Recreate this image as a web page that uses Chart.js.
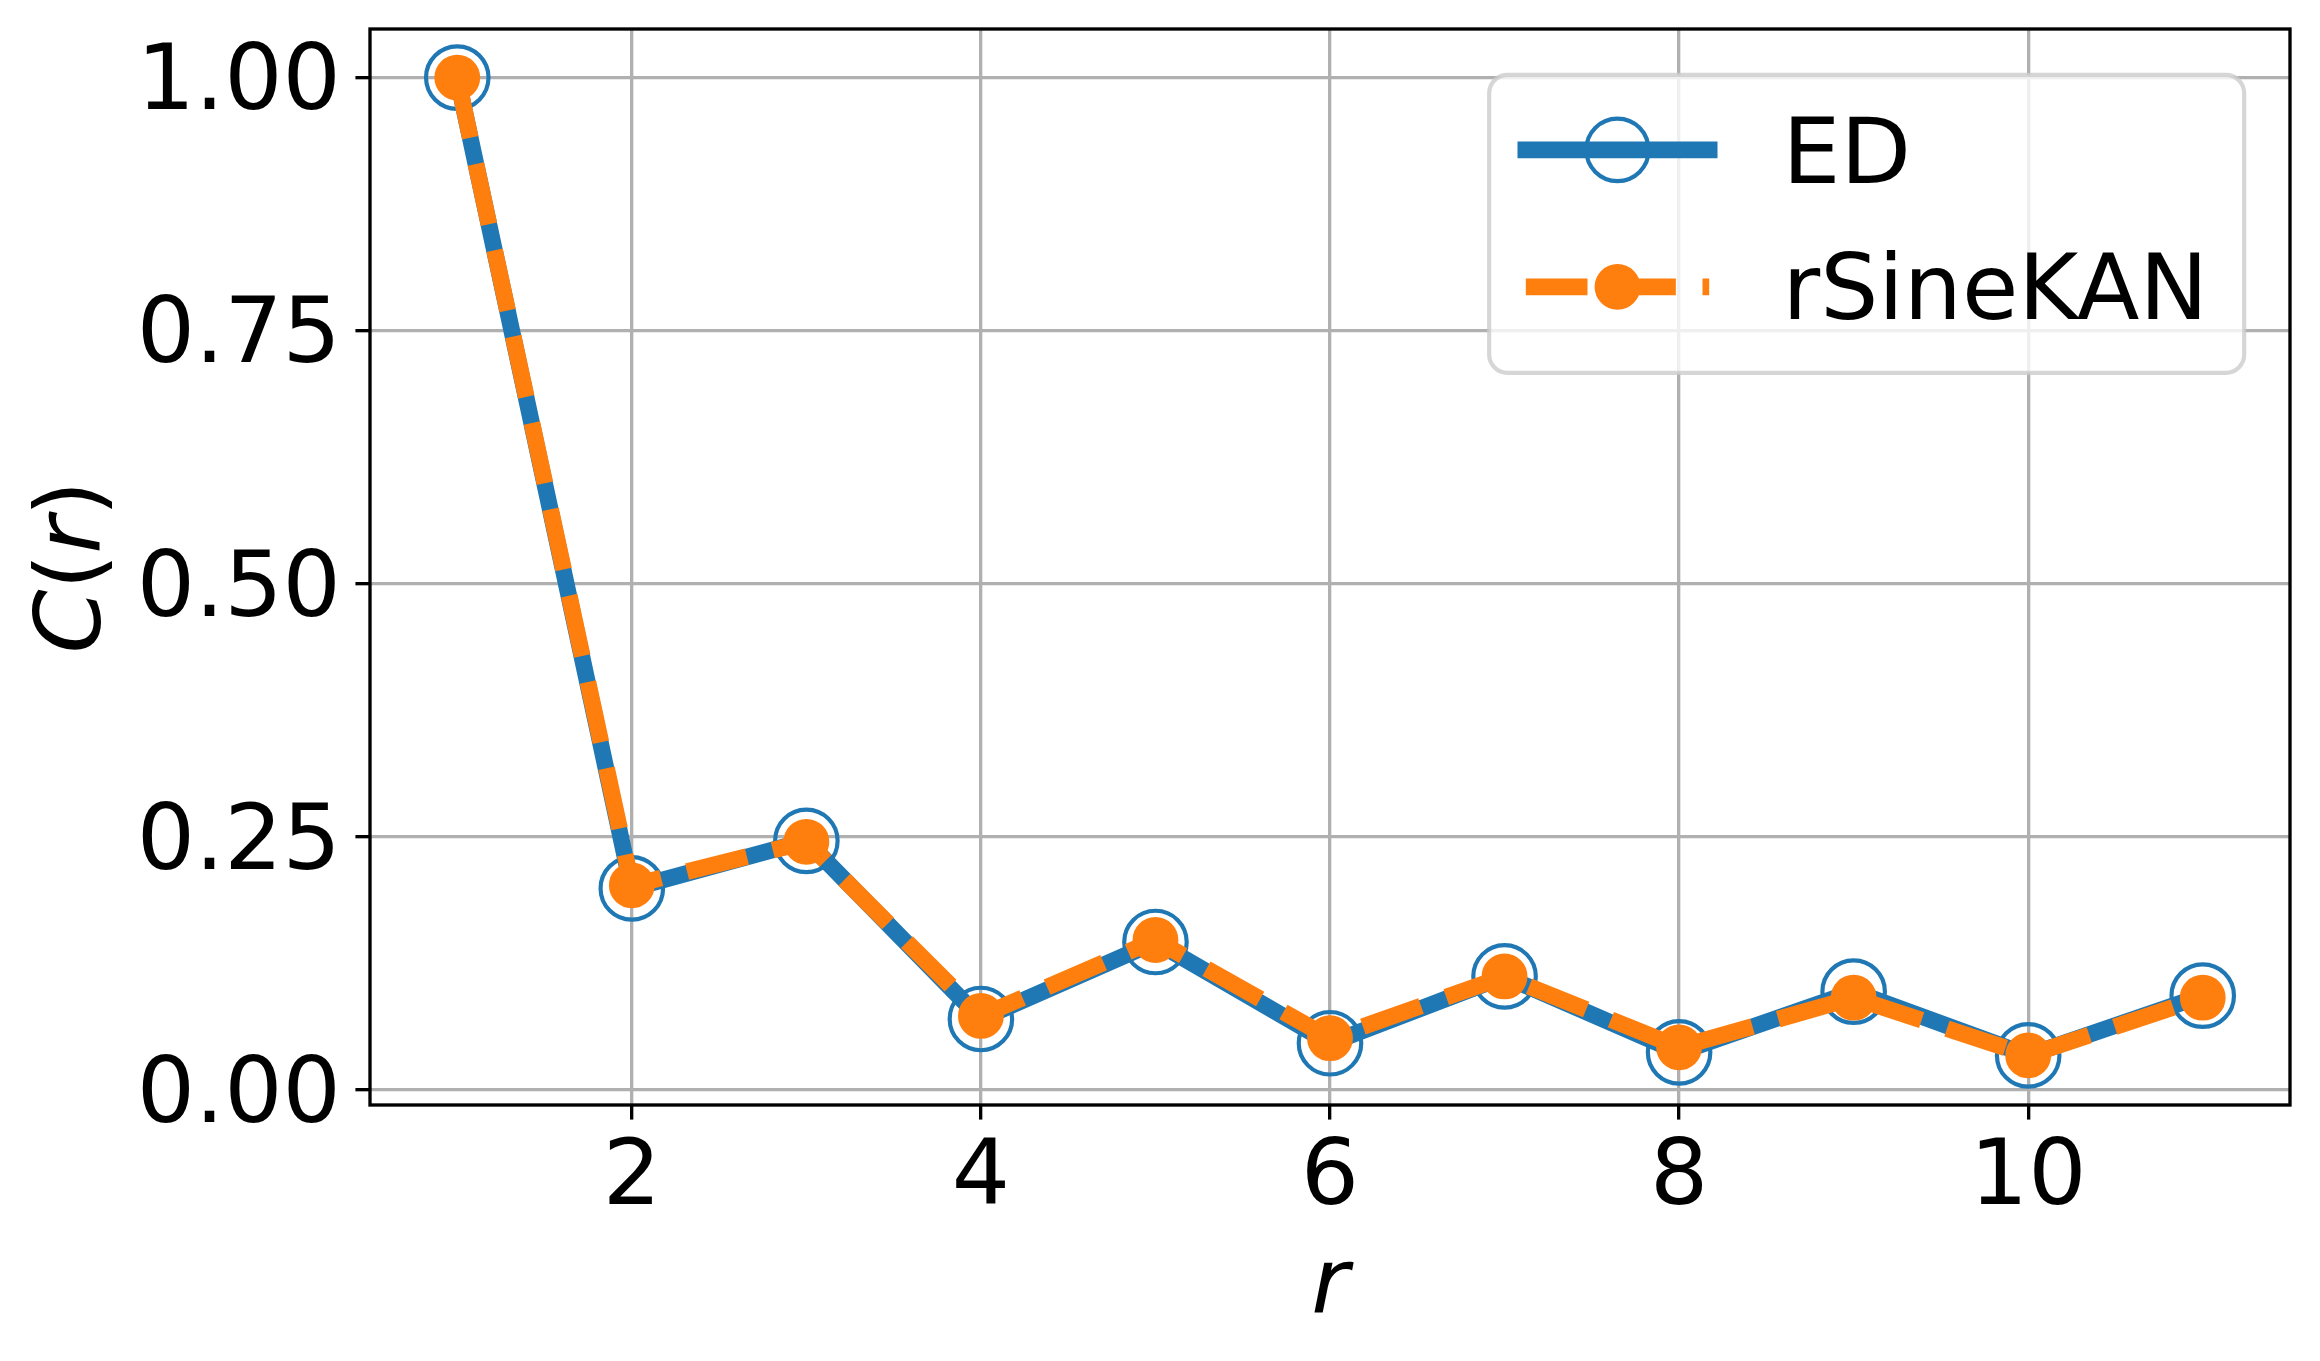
<!DOCTYPE html>
<html>
<head>
<meta charset="utf-8">
<script src="https://cdn.jsdelivr.net/npm/chart.js@4.4.1/dist/chart.umd.min.js"></script>
<style>
  html, body { margin: 0; padding: 0; background: #ffffff; }
  #wrap { width: 2320px; height: 1361px; }
</style>
</head>
<body>
<div id="wrap"><canvas id="c" width="2320" height="1361"></canvas></div>
<script>
// ---------------- data ----------------
const rValues = [1, 2, 3, 4, 5, 6, 7, 8, 9, 10, 11];
const edValues = [1.000, 0.199, 0.246, 0.070, 0.146, 0.046, 0.112, 0.037, 0.097, 0.034, 0.093];
const rSineKANValues = [1.000, 0.202, 0.245, 0.073, 0.148, 0.051, 0.112, 0.042, 0.091, 0.034, 0.091];
const seriesNames = ['ED', 'rSineKAN'];
const xTickValues = [2, 4, 6, 8, 10];
const yTickValues = [0.00, 0.25, 0.50, 0.75, 1.00];
const xAxisTitle = 'r';
const yAxisTitleParts = [['C', true], ['(', false], ['r', true], [')', false]];

// ---------------- style ----------------
const PT = 300 / 72;
const FONT = 'DejaVu Sans';
const FS = 22 * PT;
const BLUE = '#1f77b4';
const ORANGE = '#ff7f0e';
const LW = 4 * PT;
const DASH = [3.7 * LW, 1.6 * LW];

function toPoints(xs, ys) { return xs.map((x, i) => ({ x: x, y: ys[i] })); }

const framePlugin = {
  id: 'frame',
  afterDraw(chart) {
    const { ctx, chartArea: a } = chart;
    ctx.save();
    // spines
    ctx.strokeStyle = '#000000';
    ctx.lineWidth = 0.8 * PT;
    ctx.lineJoin = 'miter';
    ctx.strokeRect(a.left, a.top, a.right - a.left, a.bottom - a.top);

    // axis titles
    ctx.fillStyle = '#000000';
    ctx.textBaseline = 'alphabetic';
    ctx.font = 'italic ' + FS + 'px "' + FONT + '"';
    ctx.textAlign = 'center';
    ctx.fillText(xAxisTitle, (a.left + a.right) / 2, 1313);
    ctx.save();
    ctx.translate(100, (a.top + a.bottom) / 2);
    ctx.rotate(-Math.PI / 2);
    ctx.textAlign = 'left';
    const widths = yAxisTitleParts.map(p => {
      ctx.font = (p[1] ? 'italic ' : '') + FS + 'px "' + FONT + '"';
      return ctx.measureText(p[0]).width;
    });
    const total = widths.reduce((s, w) => s + w, 0);
    let xx = -total / 2;
    yAxisTitleParts.forEach((p, i) => {
      ctx.font = (p[1] ? 'italic ' : '') + FS + 'px "' + FONT + '"';
      ctx.fillText(p[0], xx, 0);
      xx += widths[i];
    });
    ctx.restore();

    // legend
    const boxRight = a.right - 0.5 * FS;
    const boxTop = a.top + 0.5 * FS;
    const boxW = 755, boxH = 298;
    const boxLeft = boxRight - boxW;
    ctx.beginPath();
    ctx.roundRect(boxLeft, boxTop, boxW, boxH, 0.2 * FS);
    ctx.fillStyle = 'rgba(255,255,255,0.8)';
    ctx.fill();
    ctx.strokeStyle = 'rgba(204,204,204,0.8)';
    ctx.lineWidth = 1 * PT;
    ctx.stroke();

    const hx0 = boxLeft + 0.4 * FS;
    const hx1 = hx0 + 2.0 * FS;
    const hxm = (hx0 + hx1) / 2;
    const tx = hx1 + 0.8 * FS;
    const rows = [boxTop + 75, boxTop + 212];
    const baselines = [boxTop + 108, boxTop + 244];

    ctx.beginPath();
    ctx.setLineDash([]);
    ctx.lineCap = 'square';
    ctx.strokeStyle = BLUE;
    ctx.lineWidth = LW;
    ctx.moveTo(hx0, rows[0]);
    ctx.lineTo(hx1, rows[0]);
    ctx.stroke();
    ctx.beginPath();
    ctx.lineWidth = 1 * PT;
    ctx.arc(hxm, rows[0], 7.5 * PT, 0, Math.PI * 2);
    ctx.stroke();

    ctx.beginPath();
    ctx.lineCap = 'butt';
    ctx.strokeStyle = ORANGE;
    ctx.lineWidth = LW;
    ctx.setLineDash(DASH);
    ctx.moveTo(hx0, rows[1]);
    ctx.lineTo(hx1, rows[1]);
    ctx.stroke();
    ctx.setLineDash([]);
    ctx.beginPath();
    ctx.fillStyle = ORANGE;
    ctx.lineWidth = 1 * PT;
    ctx.arc(hxm, rows[1], 5 * PT, 0, Math.PI * 2);
    ctx.fill();
    ctx.stroke();

    ctx.fillStyle = '#000000';
    ctx.font = FS + 'px "' + FONT + '"';
    ctx.textAlign = 'left';
    ctx.textBaseline = 'alphabetic';
    ctx.fillText(seriesNames[0], tx, baselines[0]);
    ctx.fillText(seriesNames[1], tx, baselines[1]);
    ctx.restore();
  }
};

const tickFont = { family: FONT, size: FS };

new Chart(document.getElementById('c').getContext('2d'), {
  type: 'line',
  data: {
    datasets: [
      {
        label: seriesNames[0],
        data: toPoints(rValues, edValues),
        borderColor: BLUE,
        borderWidth: LW,
        borderCapStyle: 'square',
        borderJoinStyle: 'round',
        pointStyle: 'circle',
        pointRadius: 7.5 * PT,
        pointHoverRadius: 7.5 * PT,
        pointBorderWidth: 1 * PT,
        pointBorderColor: BLUE,
        pointBackgroundColor: 'rgba(0,0,0,0)',
        fill: false,
        tension: 0,
        order: 1
      },
      {
        label: seriesNames[1],
        data: toPoints(rValues, rSineKANValues),
        borderColor: ORANGE,
        borderWidth: LW,
        borderDash: DASH,
        borderCapStyle: 'butt',
        borderJoinStyle: 'round',
        pointStyle: 'circle',
        pointRadius: 5 * PT,
        pointHoverRadius: 5 * PT,
        pointBorderWidth: 1 * PT,
        pointBorderColor: ORANGE,
        pointBackgroundColor: ORANGE,
        fill: false,
        tension: 0,
        order: 0
      }
    ]
  },
  options: {
    responsive: false,
    devicePixelRatio: 1,
    animation: false,
    events: [],
    layout: { autoPadding: false, padding: { top: 29, right: 30, left: 0, bottom: 0 } },
    plugins: { legend: { display: false }, tooltip: { enabled: false } },
    scales: {
      x: {
        type: 'linear',
        min: 0.5,
        max: 11.5,
        afterBuildTicks: s => { s.ticks = xTickValues.map(v => ({ value: v })); },
        afterFit: s => { s.height = 256; s.paddingLeft = 0; s.paddingRight = 0; },
        border: { display: false },
        grid: { color: '#b0b0b0', lineWidth: 0.8 * PT, drawTicks: true, tickLength: 3.5 * PT, tickColor: '#000000', tickWidth: 0.8 * PT },
        ticks: { font: tickFont, color: '#000000', padding: 6, autoSkip: false, maxRotation: 0, minRotation: 0, callback: v => String(v) }
      },
      y: {
        type: 'linear',
        min: -0.015,
        max: 1.048,
        afterBuildTicks: s => { s.ticks = yTickValues.map(v => ({ value: v })); },
        afterFit: s => { s.width = 370; s.paddingTop = 0; s.paddingBottom = 0; },
        border: { display: false },
        grid: { color: '#b0b0b0', lineWidth: 0.8 * PT, drawTicks: true, tickLength: 3.5 * PT, tickColor: '#000000', tickWidth: 0.8 * PT },
        ticks: { font: tickFont, color: '#000000', padding: 3.5 * PT, autoSkip: false, labelOffset: 8, callback: v => v.toFixed(2) }
      }
    }
  },
  plugins: [framePlugin]
});
</script>
</body>
</html>
